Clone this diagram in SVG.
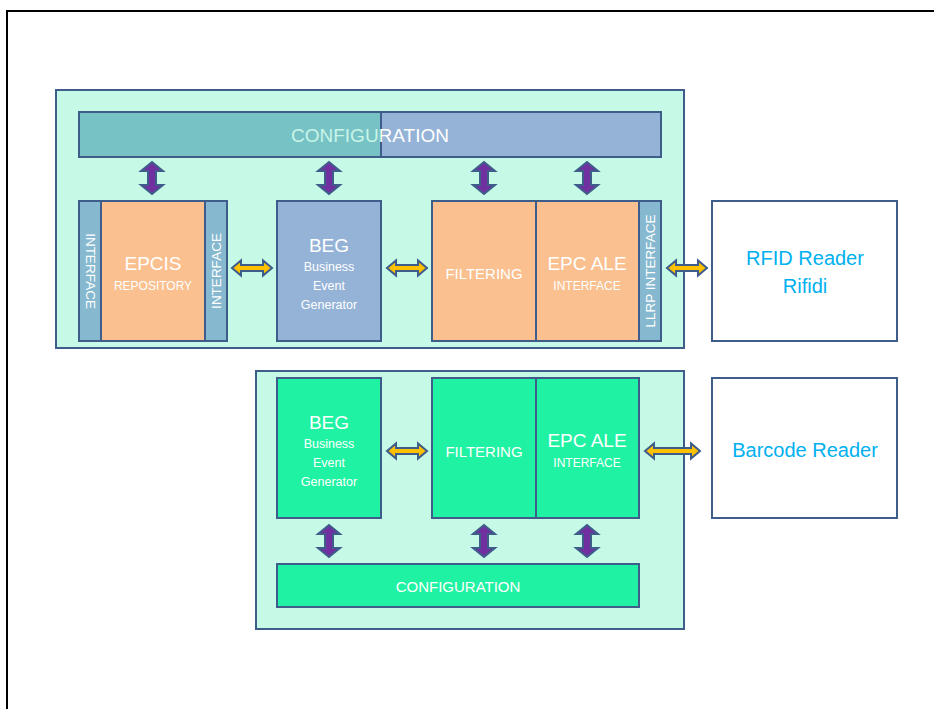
<svg xmlns="http://www.w3.org/2000/svg" width="934" height="709" viewBox="0 0 934 709">
  <style>
    .frame { fill: #c6f9e6; stroke: #3e5d8a; stroke-width: 2; }
    .box { stroke: #3e5d8a; stroke-width: 2; }
    .orange { fill: #fac090; }
    .blue { fill: #95b3d7; }
    .strip { fill: #86b8cf; }
    .green { fill: #1ff2a2; }
    .reader { fill: #ffffff; }
    text { font-family: "Liberation Sans", Arial, sans-serif; fill: #ffffff; text-anchor: middle; dominant-baseline: central; }
    .big { font-size: 19px; }
    .mid { font-size: 15px; }
    .small { font-size: 12.5px; }
    .tiny { font-size: 12px; }
    .side { font-size: 13.5px; }
    .rd { fill: #00b0f0; font-size: 20px; }
    .harrow { fill: #ffc000; stroke: #3e5d8a; stroke-width: 2; stroke-linejoin: miter; }
    .varrow { fill: #7030a0; stroke: #3e5d8a; stroke-width: 2; stroke-linejoin: miter; }
  </style>
  <defs>
    <path id="va" d="M0 -16 L11 -7 L4 -7 L4 7 L11 7 L0 16 L-11 7 L-4 7 L-4 -7 L-11 -7 Z"/>
    <path id="ha" d="M-20 0 L-11 -7.5 L-11 -3 L11 -3 L11 -7.5 L20 0 L11 7.5 L11 3 L-11 3 L-11 7.5 Z"/>
    <clipPath id="cfgLeft"><rect x="79" y="112" width="302" height="45"/></clipPath>
    <clipPath id="cfgRight"><rect x="381" y="112" width="280" height="45"/></clipPath>
  </defs>

  <!-- page border -->
  <path d="M7 709 L7 11 L934 11" fill="none" stroke="#000000" stroke-width="2"/>

  <!-- RFID middleware container -->
  <g id="rfid-stack">
    <rect class="frame" x="56" y="90" width="628" height="258"/>
  </g>

  <g id="config-top">
    <rect class="box blue" x="79" y="112" width="582" height="45"/>
    <rect x="80" y="113" width="301" height="43" fill="#77c2c4"/>
    <line x1="381" y1="112" x2="381" y2="157" stroke="#3e5d8a" stroke-width="2"/>
    <text class="big" x="370" y="135" clip-path="url(#cfgLeft)" style="fill:#c8f5e8">CONFIGURATION</text>
    <text class="big" x="370" y="135" clip-path="url(#cfgRight)">CONFIGURATION</text>
  </g>

  <g id="epcis">
    <rect class="box strip" x="79" y="201" width="22" height="140"/>
    <rect class="box orange" x="101" y="201" width="104" height="140"/>
    <rect class="box strip" x="205" y="201" width="22" height="140"/>
    <text class="side" transform="translate(90 271) rotate(90)">INTERFACE</text>
    <text class="side" transform="translate(216 271) rotate(-90)">INTERFACE</text>
    <text class="big" x="153" y="263">EPCIS</text>
    <text class="tiny" x="153" y="286">REPOSITORY</text>
  </g>

  <g id="beg-top">
    <rect class="box blue" x="277" y="201" width="104" height="140"/>
    <text class="big" x="329" y="245">BEG</text>
    <text class="small" x="329" y="267">Business</text>
    <text class="small" x="329" y="286">Event</text>
    <text class="small" x="329" y="305">Generator</text>
  </g>

  <g id="filter-ale-top">
    <rect class="box orange" x="432" y="201" width="104" height="140"/>
    <rect class="box orange" x="536" y="201" width="103" height="140"/>
    <rect class="box strip" x="639" y="201" width="22" height="140"/>
    <text class="mid" x="484" y="273">FILTERING</text>
    <text class="big" x="587" y="263">EPC ALE</text>
    <text class="tiny" x="587" y="286">INTERFACE</text>
    <text class="side" transform="translate(650 271) rotate(-90)">LLRP INTERFACE</text>
  </g>

  <g id="rfid-reader">
    <rect class="box reader" x="712" y="201" width="185" height="140"/>
    <text class="rd" x="805" y="258">RFID Reader</text>
    <text class="rd" x="805" y="286">Rifidi</text>
  </g>

  <!-- Barcode middleware container -->
  <g id="barcode-stack">
    <rect class="frame" x="256" y="371" width="428" height="258"/>
  </g>

  <g id="beg-bottom">
    <rect class="box green" x="277" y="378" width="104" height="140"/>
    <text class="big" x="329" y="422">BEG</text>
    <text class="small" x="329" y="444">Business</text>
    <text class="small" x="329" y="463">Event</text>
    <text class="small" x="329" y="482">Generator</text>
  </g>

  <g id="filter-ale-bottom">
    <rect class="box green" x="432" y="378" width="104" height="140"/>
    <rect class="box green" x="536" y="378" width="103" height="140"/>
    <text class="mid" x="484" y="451">FILTERING</text>
    <text class="big" x="587" y="440">EPC ALE</text>
    <text class="tiny" x="587" y="463">INTERFACE</text>
  </g>

  <g id="config-bottom">
    <rect class="box green" x="277" y="564" width="362" height="43"/>
    <text class="mid" x="458" y="586">CONFIGURATION</text>
  </g>

  <g id="barcode-reader">
    <rect class="box reader" x="712" y="378" width="185" height="140"/>
    <text class="rd" x="805" y="450">Barcode Reader</text>
  </g>

  <!-- connectors -->
  <g id="connectors">
    <use href="#va" class="varrow" x="152" y="178"/>
    <use href="#va" class="varrow" x="329" y="178"/>
    <use href="#va" class="varrow" x="484" y="178"/>
    <use href="#va" class="varrow" x="587" y="178"/>
    <use href="#ha" class="harrow" x="252" y="268"/>
    <use href="#ha" class="harrow" x="407" y="268"/>
    <use href="#ha" class="harrow" x="687" y="268"/>

    <use href="#va" class="varrow" x="329" y="541"/>
    <use href="#va" class="varrow" x="484" y="541"/>
    <use href="#va" class="varrow" x="587" y="541"/>
    <use href="#ha" class="harrow" x="407" y="451"/>
    <path class="harrow" d="M645 451 L654 443.5 L654 448 L691 448 L691 443.5 L700 451 L691 458.5 L691 454 L654 454 L654 458.5 Z"/>
  </g>
</svg>
